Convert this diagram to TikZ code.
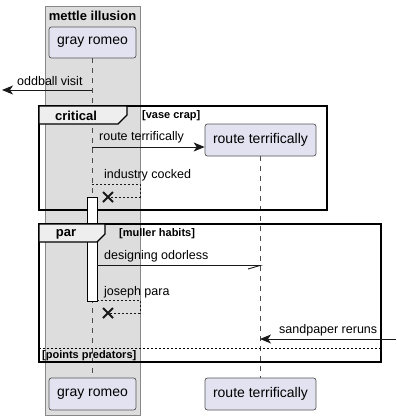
\documentclass[tikz,border=0pt]{standalone}
\usepackage{fontspec}
\setmainfont{Liberation Sans}
\usetikzlibrary{arrows.meta,calc}
\definecolor{partfill}{HTML}{E2E2F0}
\definecolor{partline}{HTML}{555555}
\definecolor{boxfill}{HTML}{DDDDDD}
\definecolor{boxline}{HTML}{888888}
\definecolor{tabfill}{HTML}{EEEEEE}
\tikzset{
  participant/.style={draw=partline, line width=0.7pt, fill=partfill, rounded corners=2.5pt,
    inner sep=0pt, font=\fontsize{14}{16}\selectfont},
  lifeline/.style={draw=black!70, line width=0.6pt, dash pattern=on 5pt off 5pt},
  msg/.style={draw=black!90, line width=0.9pt},
  reply/.style={draw=black!90, line width=0.7pt, dash pattern=on 2pt off 2pt},
  tip/.style={-{Stealth[length=11pt,width=9pt,inset=3pt]}},
  msglabel/.style={inner sep=0pt, anchor=west, font=\fontsize{12.5}{14}\selectfont},
  framebox/.style={draw=black, line width=1.5pt},
  tab/.style={draw=black, line width=1.2pt, fill=tabfill},
  framelabel/.style={inner sep=0pt, font=\bfseries\fontsize{13}{15}\selectfont},
  guardlabel/.style={inner sep=0pt, anchor=west, font=\bfseries\fontsize{11}{13}\selectfont},
  destroy/.style={line width=1.8pt, draw=black!90},
  activation/.style={draw=black, line width=0.8pt, fill=white},
}
\begin{document}
\begin{tikzpicture}[x=1pt,y=-1pt]
\useasboundingbox (0,0) rectangle (396,420);
\fill[white] (0,0) rectangle (396,420);

% grouping box
\draw[boxline, fill=boxfill, line width=0.8pt] (45,6) rectangle (140,415);
\node[framelabel] (boxtitle) at (92.5,15.5) {mettle illusion};

% participants
\node[participant, minimum width=87pt, minimum height=31pt] (grA) at (92.5,42.5) {gray romeo};
\node[participant, minimum width=87pt, minimum height=32pt] (grB) at (92.5,394) {gray romeo};
\node[participant, minimum width=111pt, minimum height=32pt] (rtA) at (260.5,140) {route terrifically};
\node[participant, minimum width=111pt, minimum height=32pt] (rtB) at (260.5,394) {route terrifically};

% lifelines
\draw[lifeline] (grA.south) -- (grB.north);
\draw[lifeline] (rtA.south) -- (rtB.north);

% outgoing message
\coordinate (oddS) at (92,90);
\coordinate (oddE) at (2,90);
\draw[msg, tip] (oddS) -- (oddE);
\node[msglabel] (oddL) at (17,81.5) {oddball visit};

% critical frame
\draw[framebox] (39,106) rectangle (327,210);
\draw[tab] (39,106) -- (127,106) -- (127,115) -- (118,124) -- (39,124) -- cycle;
\node[framelabel] (critL) at (76,115.5) {critical};
\node[guardlabel] (critG) at (142,116) {[vase crap]};

% creation message
\coordinate (createS) at (92,147);
\draw[msg, tip] (createS) -- (rtA.west |- createS);
\node[msglabel] (createL) at (99,137) {route terrifically};

% self reply with destruction
\coordinate (indA) at (92,184);
\coordinate (indB) at (140,184);
\coordinate (indC) at (140,197);
\coordinate (indX) at (108,197);
\draw[reply] (indA) -- (indB) -- (indC) -- (indX);
\draw[destroy] ($(indX)+(-5,-5)$) -- ($(indX)+(5,5)$) ($(indX)+(-5,5)$) -- ($(indX)+(5,-5)$);
\node[msglabel] (indL) at (104,175.5) {industry cocked};

% activation
\node[activation, minimum width=10pt, minimum height=104pt, inner sep=0pt] (act) at (92,249) {};

% par frame
\draw[framebox] (39,224) rectangle (381,362);
\draw[tab] (39,224) -- (105,224) -- (105,234) -- (97,242) -- (39,242) -- cycle;
\node[framelabel] (parL) at (66,234) {par};
\node[guardlabel] (parG) at (119,234) {[muller habits]};
\draw[black, line width=0.8pt, dash pattern=on 2pt off 2pt] (39,348) -- (381,348);
\node[guardlabel] (elseG) at (42,355.5) {[points predators]};

% asynchronous message with half arrow head
\coordinate (desS) at (97,265.5);
\coordinate (desE) at (260,265.5);
\draw[msg] (desS) -- (desE) -- (248,269);
\node[msglabel] (desL) at (104,256) {designing odorless};

% second self reply with destruction
\coordinate (josA) at (97,300);
\coordinate (josB) at (140,300);
\coordinate (josC) at (140,313);
\coordinate (josX) at (108,313);
\draw[reply] (josA) -- (josB) -- (josC) -- (josX);
\draw[destroy] ($(josX)+(-5,-5)$) -- ($(josX)+(5,5)$) ($(josX)+(-5,5)$) -- ($(josX)+(5,-5)$);
\node[msglabel] (josL) at (104,292) {joseph para};

% incoming message
\coordinate (sandS) at (396,339);
\coordinate (sandE) at (260,339);
\draw[msg, tip] (sandS) -- (sandE);
\node[msglabel] (sandL) at (279,330) {sandpaper reruns};
\end{tikzpicture}
\end{document}
